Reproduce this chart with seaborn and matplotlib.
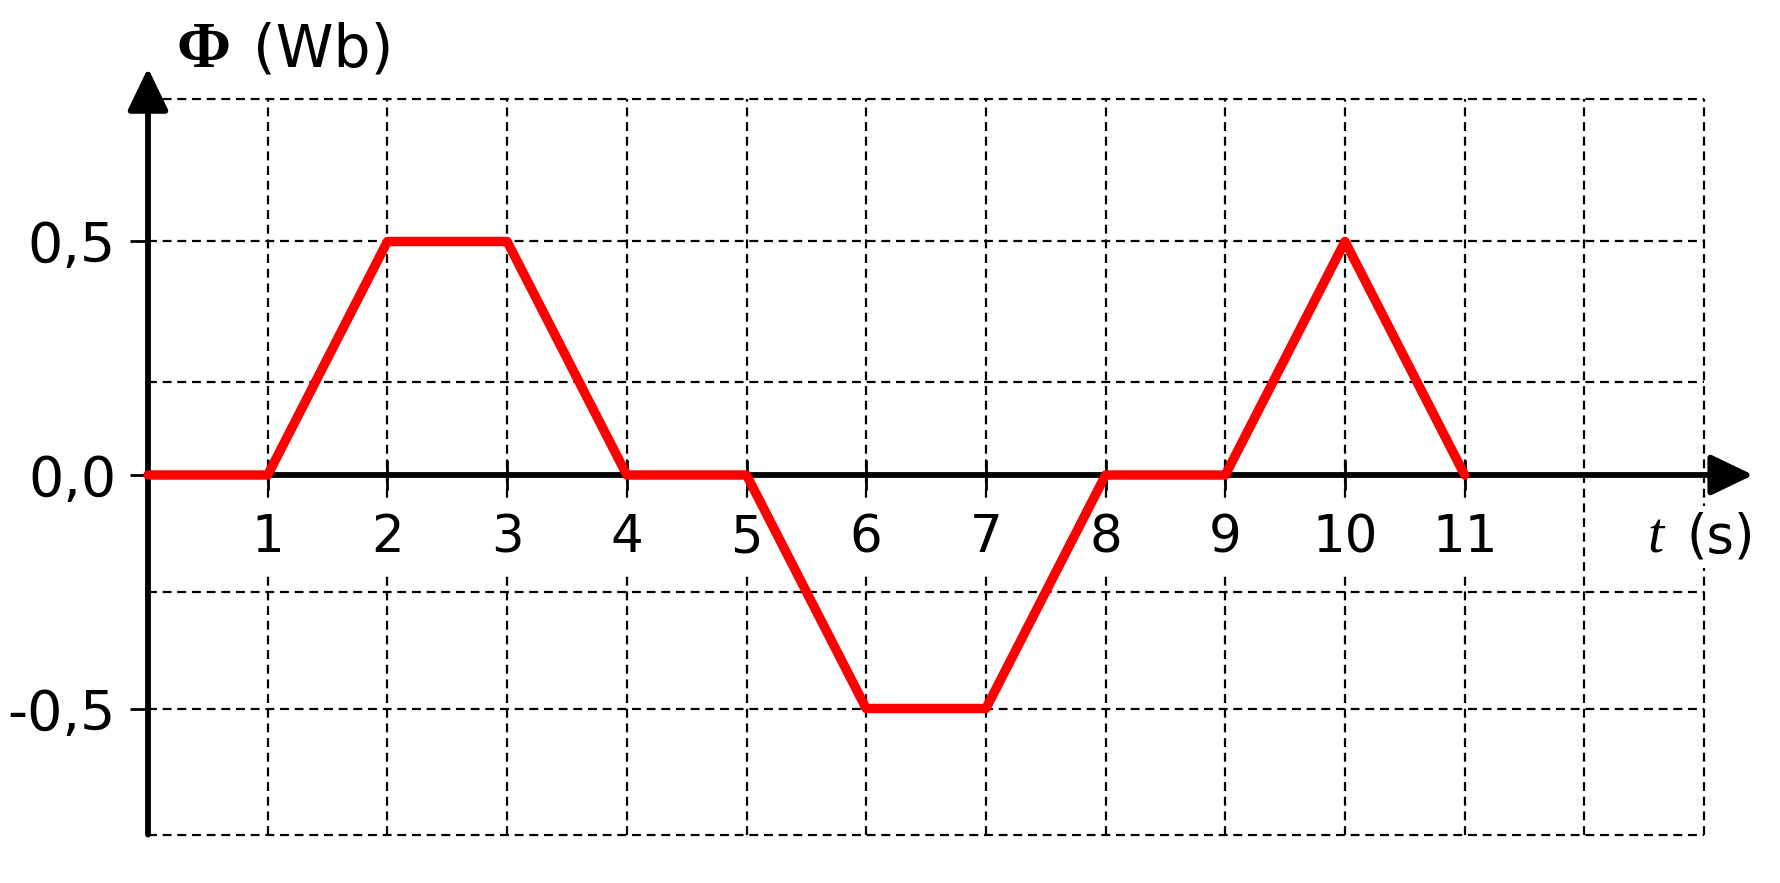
import matplotlib.pyplot as plt
import seaborn as sns

# magnetic flux through the loop
t_values = [0, 1, 2, 3, 4, 5, 6, 7, 8, 9, 10, 11]
flux_values = [0.0, 0.0, 0.5, 0.5, 0.0, 0.0, -0.5, -0.5, 0.0, 0.0, 0.5, 0.0]

x_ticks = [1, 2, 3, 4, 5, 6, 7, 8, 9, 10, 11]
x_tick_labels = [str(t) for t in x_ticks]
y_ticks = [-0.5, 0.0, 0.5]
y_tick_labels = ["-0,5", "0,0", "0,5"]

# the paper grid of the original drawing (not evenly spaced above the axis)
grid_t = [1, 2, 3, 4, 5, 6, 7, 8, 9, 10, 11, 12, 13]
grid_flux = [0.805, 0.5, 0.2, -0.25, -0.5, -0.77]


def main():
    sns.set_theme(style="ticks")
    plt.rcParams["font.family"] = ["DejaVu Sans"]
    plt.rcParams["text.color"] = "black"

    fig_w, fig_h = 1780, 883
    px_per_s, px_per_wb = 119.7, 467.0
    origin_x, origin_y = 148.0, 475.0
    t_max, flux_min, flux_max = 13.55, -0.77, 0.9

    fig = plt.figure(figsize=(fig_w / 100, fig_h / 100), dpi=100)
    ax = fig.add_axes([
        origin_x / fig_w,
        (fig_h - (origin_y - flux_min * px_per_wb)) / fig_h,
        t_max * px_per_s / fig_w,
        (flux_max - flux_min) * px_per_wb / fig_h,
    ])
    ax.set_xlim(0, t_max)
    ax.set_ylim(flux_min, flux_max)

    # dashed paper grid
    grid_style = dict(colors="black", linewidth=1.6, linestyles=(0, (4, 2.6)),
                      zorder=0.2, clip_on=False)
    ax.hlines(grid_flux, 0, grid_t[-1], **grid_style)
    ax.vlines(grid_t, grid_flux[-1], grid_flux[0], **grid_style)

    for side in ["left", "right", "top", "bottom"]:
        ax.spines[side].set_visible(False)
    ax.spines["bottom"].set_position(("data", 0))
    ax.spines["left"].set_position(("data", 0))

    arrow = dict(arrowstyle="-|>,head_length=2.6,head_width=1.25", mutation_scale=10,
                 lw=4.2, color="black", shrinkA=0, shrinkB=0)
    ax.annotate("", xy=(13.41, 0), xytext=(0, 0), arrowprops=arrow,
                annotation_clip=False, zorder=2)
    ax.annotate("", xy=(0, 0.8715), xytext=(0, flux_min), arrowprops=arrow,
                annotation_clip=False, zorder=2)

    sns.lineplot(x=t_values, y=flux_values, ax=ax, color="#ff0000", linewidth=6.8,
                 sort=False, zorder=3, clip_on=False,
                 solid_capstyle="round", solid_joinstyle="round")

    ax.set_xticks(x_ticks)
    ax.set_xticklabels(x_tick_labels)
    ax.set_yticks(y_ticks)
    ax.set_yticklabels(y_tick_labels)
    ax.tick_params(axis="x", bottom=True, direction="inout", length=21, width=2,
                   pad=17, labelsize=37, color="black", labelcolor="black")
    ax.tick_params(axis="y", left=True, direction="out", length=13, width=2,
                   pad=10, labelsize=40, color="black", labelcolor="black")
    for label in ax.get_xticklabels():
        label.set_bbox(dict(boxstyle="square,pad=0.2", fc="white", ec="none"))
    ax.set_xlabel("")
    ax.set_ylabel("")

    # axis titles
    ax.text(0.46, 0.874, "Φ", ha="center", va="baseline", family="Liberation Serif",
            weight="bold", fontsize=47, color="black", clip_on=False)
    ax.text(0.877, 0.874, "(Wb)", ha="left", va="baseline", fontsize=42,
            color="black", clip_on=False)
    ax.text(12.53, -0.165, "t", ha="left", va="baseline", family="Liberation Serif",
            style="italic", fontsize=42, color="black", clip_on=False)
    ax.text(12.85, -0.165, "(s)", ha="left", va="baseline", fontsize=38,
            color="black", clip_on=False,
            bbox=dict(boxstyle="square,pad=0.1", fc="white", ec="none"))

    fig.savefig("out.png", dpi=100)


if __name__ == "__main__":
    main()
